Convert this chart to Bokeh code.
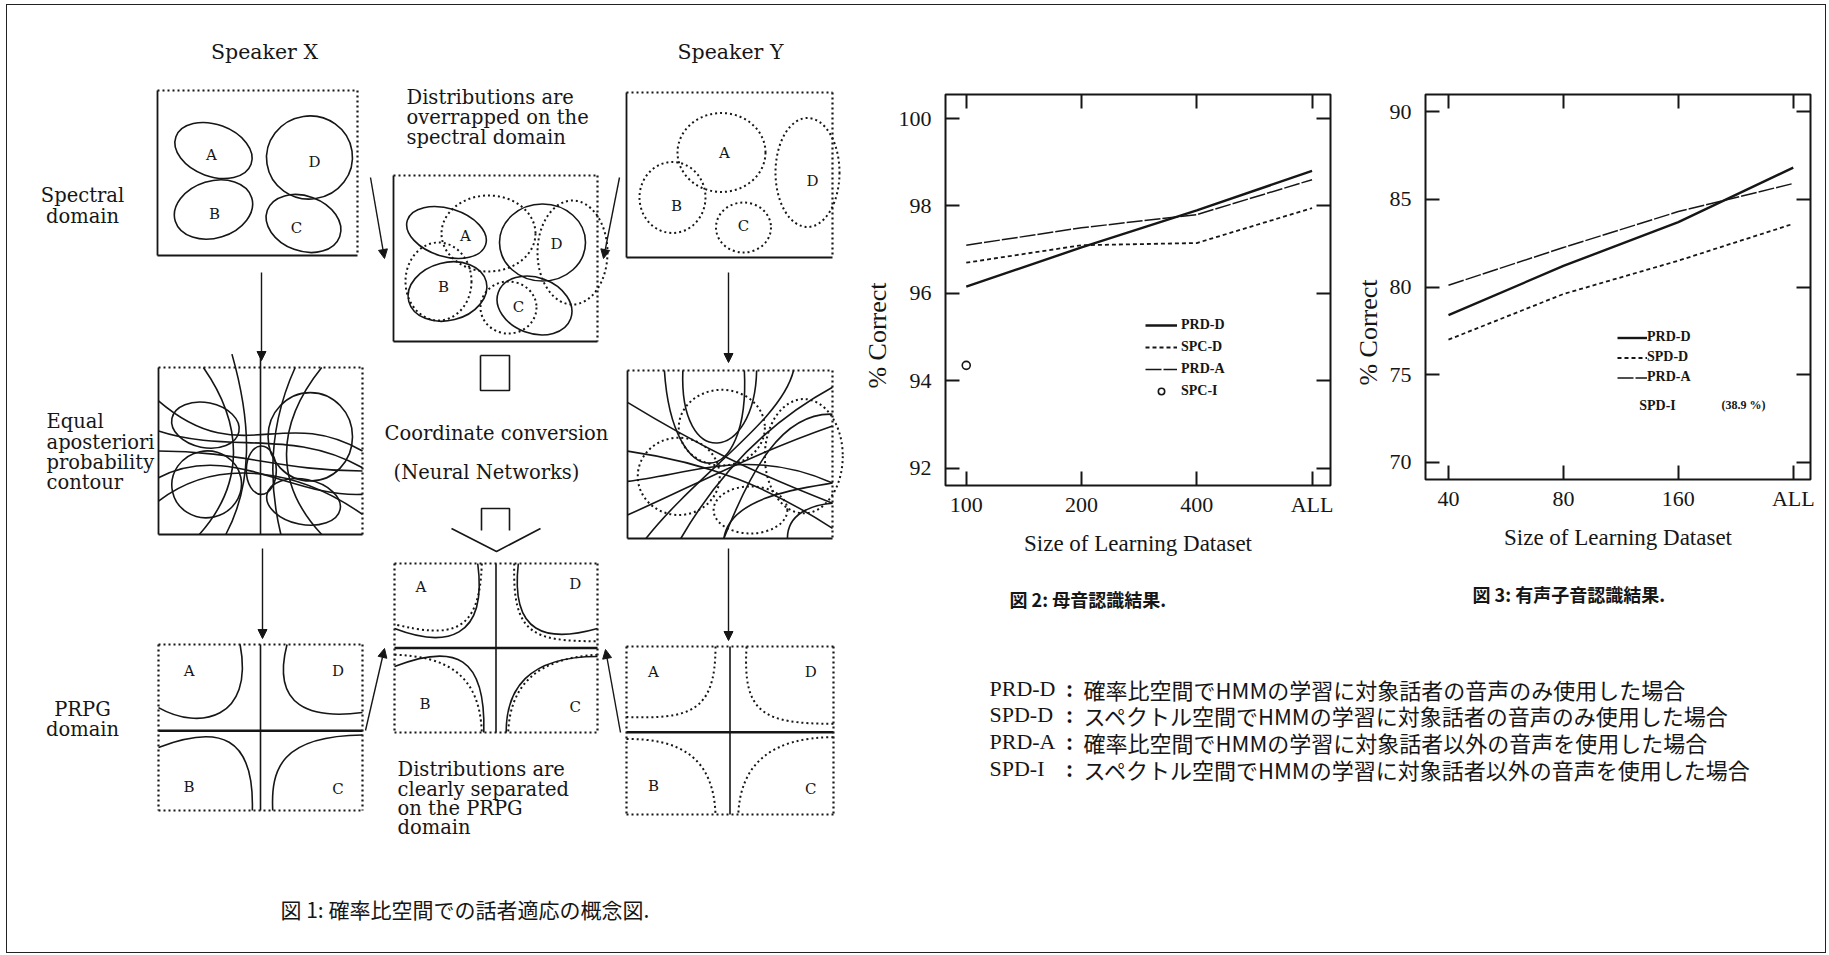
from bokeh.plotting import figure
from bokeh.layouts import row, column
from bokeh.models import (Range1d, FixedTicker, LinearAxis, Legend, LegendItem,
                          Label, Arrow, NormalHead)
from bokeh.core.properties import value
from bokeh.embed import file_html
from bokeh.resources import INLINE

INK = "#161616"
SERIF = "Liberation Serif"
DIAG = "DejaVu Serif"
CJK = "Noto Sans CJK JP"

# ---------------- data: figure 2 (vowel recognition) ----------------
vowel_sizes = ["100", "200", "400", "ALL"]
vowel_prd_d = [96.15, 97.05, 97.9, 98.8]
vowel_spc_d = [96.7, 97.1, 97.15, 97.95]
vowel_prd_a = [97.1, 97.5, 97.8, 98.6]
vowel_spc_i_size = "100"
vowel_spc_i = [94.35]
vowel_yticks = [92, 94, 96, 98, 100]
legend_vowel = ["PRD-D", "SPC-D", "PRD-A", "SPC-I"]

# ---------------- data: figure 3 (voiced consonant recognition) ----------------
cons_sizes = ["40", "80", "160", "ALL"]
cons_prd_d = [78.4, 81.2, 83.7, 86.8]
cons_spd_d = [77.0, 79.6, 81.5, 83.6]
cons_prd_a = [80.1, 82.25, 84.3, 85.9]
cons_yticks = [70, 75, 80, 85, 90]
legend_cons = ["PRD-D", "SPD-D", "PRD-A"]
cons_spd_i_label = "SPD-I"
cons_spd_i_note = "(38.9 %)"

# ---------------- texts ----------------
notes_keys = ["PRD-D", "SPD-D", "PRD-A", "SPD-I"]
notes_text = ["確率比空間でHMMの学習に対象話者の音声のみ使用した場合",
              "スペクトル空間でHMMの学習に対象話者の音声のみ使用した場合",
              "確率比空間でHMMの学習に対象話者以外の音声を使用した場合",
              "スペクトル空間でHMMの学習に対象話者以外の音声を使用した場合"]
caption1 = "図 1: 確率比空間での話者適応の概念図."
caption2 = "図 2: 母音認識結果."
caption3 = "図 3: 有声子音認識結果."
ylabel_text = "% Correct"
xlabel_text = "Size of Learning Dataset"

# ---------------- diagram geometry (page pixels) ----------------
BOX_X1 = (157, 357, 90, 255)
BOX_M1 = (393, 597, 175, 341)
BOX_Y1 = (626, 832, 92, 257)
BOX_X2 = (158, 362, 367, 534)
BOX_Y2 = (627, 832, 370, 538)
BOX_X3 = (158, 362, 644, 810)
BOX_M2 = (394, 597, 563, 732)
BOX_Y3 = (626, 833, 646, 814)

# absolute ellipses (cx, cy, w, h, angle)
ELL_X1 = [(213, 150, 80, 52, -0.35), (309, 157, 86, 83, 0.15),
          (213, 209, 80, 57, 0.3), (303, 223, 77, 55, -0.35)]
LAB_X1 = [("A", 211, 154), ("D", 314, 161), ("B", 214, 213), ("C", 296, 227)]
ELL_Y1 = [(721, 152, 88, 79, 0.0), (672, 197, 66, 71, 0.0),
          (743, 227, 55, 50, 0.0), (807, 172, 64, 109, 0.0)]
LAB_Y1 = [("A", 724, 152), ("B", 676, 205), ("C", 743, 225), ("D", 812, 180)]
ELL_M1_SOLID = [(446, 232, 82, 48, -0.3), (542, 242, 86, 77, 0.0),
                (447, 291, 80, 58, 0.25), (534, 305, 77, 56, -0.35)]
ELL_M1_DOT = [(488, 233, 94, 76, 0.0), (572, 252, 70, 104, 0.0),
              (438, 281, 66, 78, 0.0), (508, 307, 56, 52, 0.0)]
LAB_M1 = [("A", 465, 235), ("D", 556, 243), ("B", 443, 286), ("C", 518, 306)]

# relative ellipses (u, v, su, sv, angle) for contour boxes
ELL_X2 = [(0.23, 0.345, 0.335, 0.27, -0.2), (0.744, 0.415, 0.414, 0.53, 0.0),
          (0.236, 0.70, 0.342, 0.40, 0.2), (0.711, 0.805, 0.366, 0.27, -0.2),
          (0.504, 0.615, 0.147, 0.29, 0.0)]
ELL_Y2 = [(0.46, 0.34, 0.42, 0.45, 0.0), (0.25, 0.63, 0.40, 0.46, 0.0),
          (0.86, 0.51, 0.38, 0.68, 0.0), (0.60, 0.83, 0.36, 0.28, 0.0)]

# cubic curves (P0, P1, P2, P3) relative to box
CUR_X2 = [((0.22, 0.0), (0.42, 0.35), (0.42, 0.7), (0.20, 1.0)),
          ((0.36, -0.08), (0.46, 0.35), (0.46, 0.7), (0.33, 1.0)),
          ((0.50, -0.08), (0.50, 0.3), (0.50, 0.7), (0.50, 1.0)),
          ((0.67, 0.0), (0.54, 0.35), (0.54, 0.7), (0.60, 1.0)),
          ((0.80, 0.0), (0.57, 0.35), (0.57, 0.7), (0.80, 1.0)),
          ((0.0, 0.20), (0.4, 0.62), (0.6, 0.22), (1.0, 0.50)),
          ((0.0, 0.38), (0.35, 0.52), (0.65, 0.36), (1.0, 0.60)),
          ((0.0, 0.50), (0.4, 0.50), (0.6, 0.62), (1.0, 0.62)),
          ((0.0, 0.66), (0.35, 0.44), (0.65, 0.78), (1.0, 0.76)),
          ((0.0, 0.80), (0.3, 0.52), (0.7, 0.62), (1.0, 0.88))]
CUR_Y2 = [((0.18, 0.0), (0.22, 0.75), (0.60, 0.72), (0.57, 0.0)),
          ((0.27, 0.0), (0.25, 0.6), (0.62, 0.55), (0.63, 0.0)),
          ((0.81, 0.0), (0.75, 0.3), (0.35, 0.6), (0.09, 1.0)),
          ((1.0, 0.10), (0.70, 0.3), (0.45, 0.6), (0.26, 1.0)),
          ((1.0, 0.26), (0.75, 0.25), (0.60, 0.6), (0.47, 1.0)),
          ((0.0, 0.19), (0.35, 0.45), (0.60, 0.6), (1.0, 0.79)),
          ((0.0, 0.48), (0.40, 0.55), (0.70, 0.7), (1.0, 0.94)),
          ((0.0, 0.66), (0.30, 0.62), (0.60, 0.45), (1.0, 0.67)),
          ((0.0, 0.86), (0.30, 0.7), (0.60, 0.5), (1.0, 0.33)),
          ((0.47, 1.0), (0.50, 0.75), (0.85, 0.7), (1.0, 0.67)),
          ((0.78, 1.0), (0.78, 0.85), (0.90, 0.8), (1.0, 0.79))]
CUR_X3 = [((0.40, 0.0), (0.47, 0.45), (0.20, 0.52), (0.0, 0.38)),
          ((0.63, 0.0), (0.55, 0.38), (0.75, 0.45), (1.0, 0.41)),
          ((0.0, 0.62), (0.30, 0.48), (0.47, 0.55), (0.46, 1.0)),
          ((1.0, 0.545), (0.60, 0.55), (0.55, 0.75), (0.56, 1.0))]
CUR_M2_SOLID = [((0.41, 0.0), (0.46, 0.45), (0.25, 0.5), (0.0, 0.385)),
                ((0.61, 0.0), (0.57, 0.42), (0.75, 0.47), (1.0, 0.385)),
                ((0.0, 0.61), (0.30, 0.47), (0.45, 0.55), (0.44, 1.0)),
                ((1.0, 0.55), (0.65, 0.55), (0.55, 0.75), (0.55, 1.0))]
CUR_M2_DOT = [((0.43, 0.0), (0.42, 0.42), (0.28, 0.44), (0.0, 0.36)),
              ((0.59, 0.0), (0.58, 0.42), (0.68, 0.46), (1.0, 0.46)),
              ((0.0, 0.54), (0.25, 0.55), (0.42, 0.65), (0.43, 1.0)),
              ((1.0, 0.54), (0.70, 0.56), (0.57, 0.72), (0.56, 1.0))]
CUR_Y3 = [((0.43, 0.0), (0.43, 0.4), (0.30, 0.43), (0.0, 0.42)),
          ((0.58, 0.0), (0.56, 0.4), (0.66, 0.46), (1.0, 0.46)),
          ((0.0, 0.55), (0.25, 0.55), (0.42, 0.65), (0.43, 1.0)),
          ((1.0, 0.54), (0.70, 0.54), (0.55, 0.7), (0.54, 1.0))]
LAB_X3 = [("A", 0.15, 0.16), ("D", 0.88, 0.16), ("B", 0.15, 0.86), ("C", 0.88, 0.87)]
LAB_M2 = [("A", 0.13, 0.14), ("D", 0.89, 0.12), ("B", 0.15, 0.83), ("C", 0.89, 0.85)]
LAB_Y3 = [("A", 0.13, 0.15), ("D", 0.89, 0.15), ("B", 0.13, 0.83), ("C", 0.89, 0.85)]
AXIS_V = {"X3": 0.52, "M2": 0.50, "Y3": 0.51}

ARROWS = [(261, 272, 261, 360), (728, 272, 728, 362),
          (262, 548, 262, 638), (728, 548, 728, 640),
          (370, 177, 384, 258), (619, 177, 603, 258),
          (365, 730, 384, 648), (620, 732, 605, 649)]


def rel(b, u, v):
    return b[0] + u * (b[1] - b[0]), b[2] + v * (b[3] - b[2])


def draw_box(p, b, all_dotted):
    x0, x1, y0, y1 = b
    sides = [("top", [x0, x1], [y0, y0]), ("right", [x1, x1], [y0, y1]),
             ("left", [x0, x0], [y0, y1]), ("bottom", [x0, x1], [y1, y1])]
    for name, xs, ys in sides:
        if all_dotted or name in ("top", "right"):
            p.line(xs, ys, line_color=INK, line_width=2.2, line_dash="2 3")
        else:
            p.line(xs, ys, line_color=INK, line_width=1.8)


def draw_abs_ellipses(p, ells, dotted):
    p.ellipse(x=[e[0] for e in ells], y=[e[1] for e in ells],
              width=[e[2] for e in ells], height=[e[3] for e in ells],
              angle=[e[4] for e in ells], fill_color=None, line_color=INK,
              line_width=2.0 if dotted else 1.6,
              line_dash="2 3" if dotted else "solid")


def draw_rel_ellipses(p, b, ells, dotted):
    w = b[1] - b[0]
    h = b[3] - b[2]
    pts = [rel(b, e[0], e[1]) for e in ells]
    p.ellipse(x=[q[0] for q in pts], y=[q[1] for q in pts],
              width=[e[2] * w for e in ells], height=[e[3] * h for e in ells],
              angle=[e[4] for e in ells], fill_color=None, line_color=INK,
              line_width=2.0 if dotted else 1.6,
              line_dash="2 3" if dotted else "solid")


def draw_curves(p, b, curves, dotted):
    cols = {k: [] for k in ("x0", "y0", "x1", "y1", "cx0", "cy0", "cx1", "cy1")}
    for P0, P1, P2, P3 in curves:
        a = rel(b, *P0)
        c0 = rel(b, *P1)
        c1 = rel(b, *P2)
        e = rel(b, *P3)
        cols["x0"].append(a[0]); cols["y0"].append(a[1])
        cols["x1"].append(e[0]); cols["y1"].append(e[1])
        cols["cx0"].append(c0[0]); cols["cy0"].append(c0[1])
        cols["cx1"].append(c1[0]); cols["cy1"].append(c1[1])
    p.bezier(**cols, line_color=INK, line_width=2.0 if dotted else 1.6,
             line_dash="2 3" if dotted else "solid")


def txt(p, xs, ys, texts, size, align="center", font=DIAG, style="normal"):
    p.text(x=xs, y=ys, text=texts, text_font=value(font),
           text_font_size=value(size), text_align=align,
           text_baseline="middle", text_color=INK, text_font_style=style)


def draw_cross(p, b, v):
    p.line([b[0], b[1]], [rel(b, 0, v)[1]] * 2, line_color=INK, line_width=2.4)
    p.line([rel(b, 0.5, 0)[0]] * 2, [b[2], b[3]], line_color=INK, line_width=1.6)


def rel_labels(p, b, labs):
    pts = [rel(b, u, v) for _, u, v in labs]
    txt(p, [q[0] for q in pts], [q[1] for q in pts], [l[0] for l in labs], "15px")


# ================= left: concept diagram =================
L = figure(width=848, height=947, x_range=Range1d(7, 855), y_range=Range1d(952, 5),
           output_backend="svg", toolbar_location=None, min_border=0,
           x_axis_location=None, y_axis_location=None)
L.xgrid.visible = False
L.ygrid.visible = False
L.outline_line_color = None

for b in (BOX_X1, BOX_M1, BOX_Y1, BOX_X2, BOX_Y2):
    draw_box(L, b, False)
for b in (BOX_X3, BOX_M2, BOX_Y3):
    draw_box(L, b, True)

draw_abs_ellipses(L, ELL_X1, False)
draw_abs_ellipses(L, ELL_Y1, True)
draw_abs_ellipses(L, ELL_M1_SOLID, False)
draw_abs_ellipses(L, ELL_M1_DOT, True)
for labs in (LAB_X1, LAB_Y1, LAB_M1):
    txt(L, [l[1] for l in labs], [l[2] for l in labs], [l[0] for l in labs], "15px")

draw_rel_ellipses(L, BOX_X2, ELL_X2, False)
draw_curves(L, BOX_X2, CUR_X2, False)
draw_rel_ellipses(L, BOX_Y2, ELL_Y2, True)
draw_curves(L, BOX_Y2, CUR_Y2, False)

draw_cross(L, BOX_X3, AXIS_V["X3"])
draw_cross(L, BOX_M2, AXIS_V["M2"])
draw_cross(L, BOX_Y3, AXIS_V["Y3"])
draw_curves(L, BOX_X3, CUR_X3, False)
draw_curves(L, BOX_M2, CUR_M2_SOLID, False)
draw_curves(L, BOX_M2, CUR_M2_DOT, True)
draw_curves(L, BOX_Y3, CUR_Y3, True)
rel_labels(L, BOX_X3, LAB_X3)
rel_labels(L, BOX_M2, LAB_M2)
rel_labels(L, BOX_Y3, LAB_Y3)

for xs, ys, xe, ye in ARROWS:
    L.add_layout(Arrow(end=NormalHead(size=9, fill_color=INK, line_color=INK, line_width=1),
                       x_start=xs, y_start=ys, x_end=xe, y_end=ye,
                       line_color=INK, line_width=1.4))

# hollow block arrows (small box and downward arrow)
L.line([480, 509, 509, 480, 480], [355, 355, 390, 390, 355], line_color=INK, line_width=1.6)
L.line([481, 481, 509, 509], [530, 508, 508, 530], line_color=INK, line_width=1.6)
L.line([451, 496, 540], [528, 551, 528], line_color=INK, line_width=1.6)

txt(L, [264, 730], [51, 51], ["Speaker X", "Speaker Y"], "20.5px")
txt(L, [82, 82], [195, 216], ["Spectral", "domain"], "19.5px")
txt(L, [406, 406, 406], [97, 117, 137],
    ["Distributions  are", "overrapped on the", "spectral domain"], "19.5px", align="left")
txt(L, [46, 46, 46, 46], [421, 442, 462, 482],
    ["Equal", "aposteriori", "probability", "contour"], "19.5px", align="left")
txt(L, [496, 486], [433, 472], ["Coordinate conversion", "(Neural Networks)"], "19.5px")
txt(L, [82, 82], [709, 729], ["PRPG", "domain"], "19.5px")
txt(L, [397, 397, 397, 397], [769, 789, 808, 827],
    ["Distributions are", "clearly separated", "on the PRPG", "domain"], "19.5px", align="left")
txt(L, [280], [908], [caption1], "21px", align="left", font=CJK)


# ================= charts =================
def make_chart(sizes, yticks, x_start, x_end, y_start, y_end, frame_h,
               top, bottom, left, right):
    p = figure(frame_width=385, frame_height=frame_h,
               x_range=Range1d(x_start, x_end), y_range=Range1d(y_start, y_end),
               output_backend="svg", toolbar_location=None,
               min_border_left=left, min_border_right=right,
               min_border_top=top, min_border_bottom=bottom,
               background_fill_color="white", border_fill_color="white")
    p.xgrid.visible = False
    p.ygrid.visible = False
    p.outline_line_color = INK
    p.outline_line_width = 2
    right_ax = LinearAxis()
    top_ax = LinearAxis()
    p.add_layout(right_ax, "right")
    p.add_layout(top_ax, "above")
    bx = p.below[0]
    ly = p.left[0]
    ticks_x = list(range(len(sizes)))
    bx.ticker = FixedTicker(ticks=ticks_x)
    top_ax.ticker = FixedTicker(ticks=ticks_x)
    ly.ticker = FixedTicker(ticks=yticks)
    right_ax.ticker = FixedTicker(ticks=yticks)
    bx.major_label_overrides = {i: s for i, s in enumerate(sizes)}
    for ax in (bx, ly, right_ax, top_ax):
        ax.axis_line_color = None
        ax.major_tick_in = 14
        ax.major_tick_out = 0
        ax.major_tick_line_color = INK
        ax.major_tick_line_width = 2
        ax.minor_tick_line_color = None
        ax.major_label_text_font = SERIF
        ax.major_label_text_font_size = "22px"
        ax.major_label_text_color = INK
    for ax, ticks in ((right_ax, yticks), (top_ax, ticks_x)):
        ax.major_label_overrides = {t: "" for t in ticks}
        ax.major_label_standoff = 0
        ax.major_label_text_font_size = "1px"
    bx.axis_label = xlabel_text
    # label sits lower than the frame centre in the original: pad its far end
    ly.axis_label = ylabel_text + "\u00a0" * 14
    for ax in (bx, ly):
        ax.axis_label_text_font = SERIF
        ax.axis_label_text_font_style = "normal"
        ax.axis_label_text_color = INK
    bx.axis_label_text_font_size = "23px"
    ly.axis_label_text_font_size = "26px"
    bx.major_label_standoff = 6
    bx.axis_label_standoff = 11
    ly.major_label_standoff = 14
    ly.axis_label_standoff = 4
    return p


def style_legend(leg, size, gh, spacing, standoff, gw):
    leg.label_text_font = SERIF
    leg.label_text_font_size = size
    leg.label_text_font_style = "bold"
    leg.label_text_color = INK
    leg.glyph_width = gw
    leg.glyph_height = gh
    leg.label_height = gh
    leg.label_standoff = standoff
    leg.spacing = spacing
    leg.padding = 0
    leg.margin = 0
    leg.border_line_color = None
    leg.background_fill_alpha = 0


# ---- figure 2 ----
C1 = make_chart(vowel_sizes, vowel_yticks, -0.18, 3.16, 91.6, 100.55, 391, 89, 90, 90, 13)
xv = list(range(len(vowel_sizes)))
r1 = C1.line(xv, vowel_prd_d, line_color=INK, line_width=2.4)
r2 = C1.line(xv, vowel_spc_d, line_color=INK, line_width=1.8, line_dash="4 3")
r3 = C1.line(xv, vowel_prd_a, line_color=INK, line_width=1.5, line_dash="16 2")
r4 = C1.scatter([vowel_sizes.index(vowel_spc_i_size)], vowel_spc_i, marker="circle", size=8,
                fill_color=None, line_color=INK, line_width=1.6)
leg1 = Legend(items=[LegendItem(label=lab, renderers=[r]) for lab, r in
                     zip(legend_vowel, [r1, r2, r3, r4])], location=(200, 86))
style_legend(leg1, "14px", 16, 6, 4, 32)
C1.add_layout(leg1)

# ---- figure 3 ----
C2 = make_chart(cons_sizes, cons_yticks, -0.2, 3.15, 69.03, 90.97, 385, 87, 98, 82, 15)
xc = list(range(len(cons_sizes)))
s1 = C2.line(xc, cons_prd_d, line_color=INK, line_width=2.4)
s2 = C2.line(xc, cons_spd_d, line_color=INK, line_width=1.8, line_dash="4 3")
s3 = C2.line(xc, cons_prd_a, line_color=INK, line_width=1.5, line_dash="16 2")
leg2 = Legend(items=[LegendItem(label=lab, renderers=[r]) for lab, r in
                     zip(legend_cons, [s1, s2, s3])], location=(192, 94))
style_legend(leg2, "14px", 15, 4, 0, 30)
C2.add_layout(leg2)
C2.add_layout(Label(x=1.66, y=73.25, text=cons_spd_i_label, text_font=SERIF,
                    text_font_size="14px", text_font_style="bold", text_color=INK,
                    text_baseline="middle"))
C2.add_layout(Label(x=2.376, y=73.25, text=cons_spd_i_note, text_font=SERIF,
                    text_font_size="12px", text_font_style="bold", text_color=INK,
                    text_baseline="middle"))

# ================= bottom-right text block =================
T = figure(width=970, height=377, x_range=Range1d(855, 1825), y_range=Range1d(952, 575),
           output_backend="svg", toolbar_location=None, min_border=0,
           x_axis_location=None, y_axis_location=None)
T.xgrid.visible = False
T.ygrid.visible = False
T.outline_line_color = None
txt(T, [1009], [598], [caption2], "18px", align="left", font=CJK, style="bold")
txt(T, [1472], [593], [caption3], "18px", align="left", font=CJK, style="bold")
ny = [688, 714, 741, 768]
txt(T, [989] * 4, ny, notes_keys, "22px", align="left", font=SERIF)
txt(T, [1069] * 4, ny, [":"] * 4, "20px", font=CJK, style="bold")
txt(T, [1083] * 4, ny, notes_text, "22px", align="left", font=CJK)

layout = row(L, column(row(C1, C2), T), margin=(4, 0, 0, 6),
             styles={"border": "1px solid #222"})

open("out.html", "w").write(file_html(layout, INLINE))
